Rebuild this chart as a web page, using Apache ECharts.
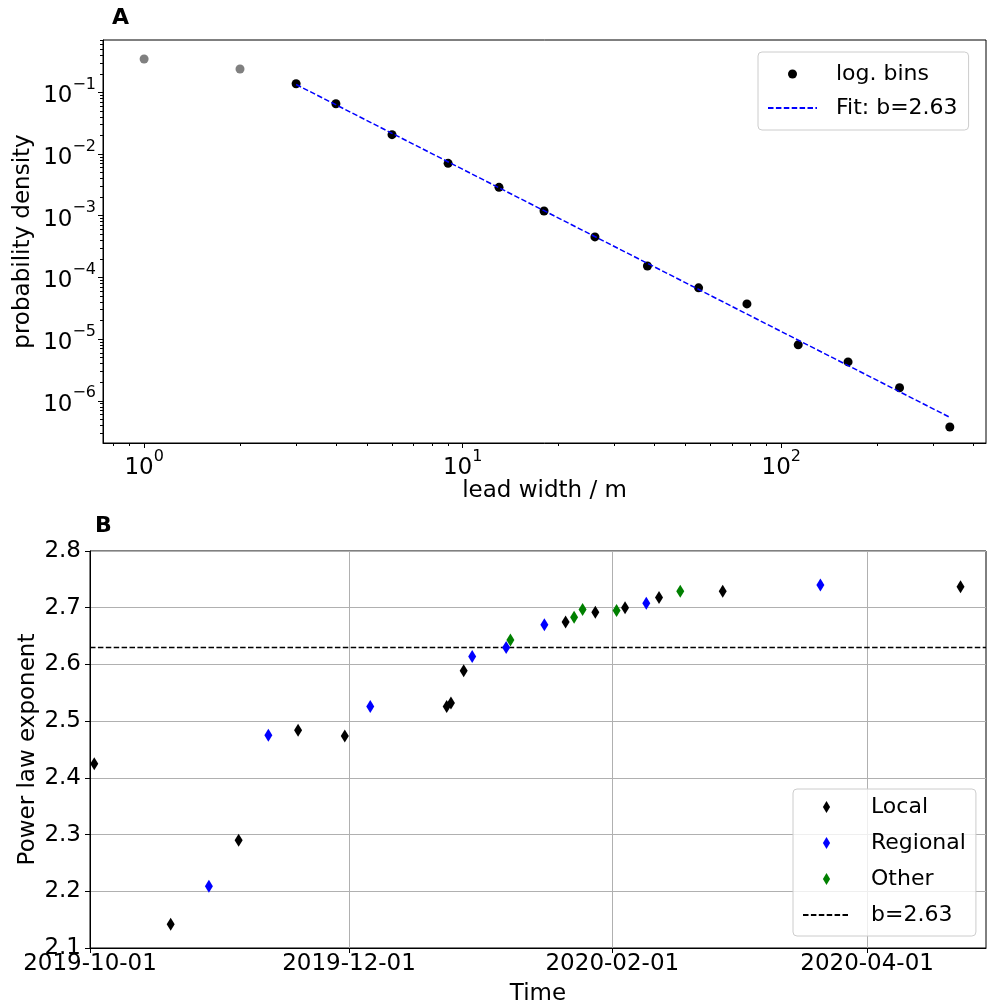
<!DOCTYPE html>
<html>
<head>
<meta charset="utf-8">
<script src="https://cdn.jsdelivr.net/npm/echarts@6/dist/echarts.min.js"></script>
<style>
html,body{margin:0;padding:0;background:#fff;}
#chart{width:987px;height:1008px;}
</style>
</head>
<body>
<div id="chart"></div>
<script>
// ---------- Panel A data ----------
const excludedX = [1, 2];
const excludedY = [0.347, 0.239];
const binX = [3, 4, 6, 9, 13, 18, 26, 38, 55, 78, 113, 162, 235, 338];
const binY = [0.138, 0.0653, 0.0206, 0.00706, 0.00288, 0.00119, 4.53e-4, 1.53e-4, 6.78e-5, 3.72e-5, 8.07e-6, 4.27e-6, 1.63e-6, 3.76e-7];
const fitX = [3, 338];
const fitY = [0.134, 5.4e-7];
const xMajorTicks = [1, 10, 100];
const yMajorTicks = [1e-6, 1e-5, 1e-4, 1e-3, 1e-2, 1e-1];

// ---------- Panel B data ----------
const localDates = ['2019-10-02','2019-10-20','2019-11-05','2019-11-19','2019-11-30','2019-12-24','2019-12-25','2019-12-28','2020-01-21','2020-01-28','2020-02-04','2020-02-12','2020-02-27','2020-04-23'];
const localValues = [2.425, 2.142, 2.290, 2.484, 2.474, 2.526, 2.532, 2.589, 2.675, 2.692, 2.700, 2.718, 2.729, 2.737];
const regionalDates = ['2019-10-29','2019-11-12','2019-12-06','2019-12-30','2020-01-07','2020-01-16','2020-02-09','2020-03-21'];
const regionalValues = [2.209, 2.475, 2.526, 2.614, 2.630, 2.670, 2.708, 2.740];
const otherDates = ['2020-01-08','2020-01-23','2020-01-25','2020-02-02','2020-02-17'];
const otherValues = [2.643, 2.683, 2.697, 2.695, 2.729];
const fitExponent = 2.63;
const timeTicks = ['2019-10-01', '2019-12-01', '2020-02-01', '2020-04-01'];
const timeMin = '2019-10-01';
const timeMax = '2020-04-29';

// ---------- helpers ----------
const FONT = 'DejaVu Sans';
const FS = 23;
const pd = s => echarts.number.parseDate(s).getTime();
const zip = (a, b) => a.map((v, i) => [v, b[i]]);
const zipDates = (a, b) => a.map((v, i) => [pd(v), b[i]]);
function minorTicks(lo, hi) {
  const out = [];
  for (let e = Math.floor(Math.log10(lo)); e <= Math.ceil(Math.log10(hi)); e++) {
    for (let m = 2; m <= 9; m++) {
      const v = m * Math.pow(10, e);
      if (v >= lo && v <= hi) out.push(v);
    }
  }
  return out;
}
const xMin = 0.743, xMax = 439, yMin = 2.07e-7, yMax = 0.705;
const supFmt = v => {
  const e = Math.round(Math.log10(v));
  return '{b|10}{s|' + String(e).replace('-', '\u2212') + '}';
};
const supRich = {
  b: {fontFamily: FONT, fontSize: FS, color: '#000', lineHeight: 31, verticalAlign: 'bottom'},
  s: {fontFamily: FONT, fontSize: 16, color: '#000', lineHeight: 31, verticalAlign: 'top'}
};
const thinDiamond = 'path://M0,-10 L6,0 L0,10 L-6,0 Z';
const pad2 = n => (n < 10 ? '0' : '') + n;
const dateFmt = v => { const d = new Date(v); return d.getFullYear() + '-' + pad2(d.getMonth() + 1) + '-' + pad2(d.getDate()); };
const hiddenSymbol = {color: 'rgba(0,0,0,0)', borderWidth: 0, opacity: 0};

const chart = echarts.init(document.getElementById('chart'), null, {renderer: 'canvas'});
const option = {
  animation: false,
  textStyle: {fontFamily: FONT},
  grid: [
    {left: 103, right: 1, top: 40, height: 403, show: true, borderColor: '#000', borderWidth: 1, containLabel: false},
    {left: 90, right: 1, top: 551, height: 397, show: true, borderColor: '#000', borderWidth: 1, containLabel: false}
  ],
  graphic: [
    {type: 'text', left: 112, top: 7, style: {text: 'A', font: 'bold 22px "DejaVu Sans"', fill: '#000'}},
    {type: 'text', left: 95, top: 515, style: {text: 'B', font: 'bold 22px "DejaVu Sans"', fill: '#000'}}
  ],
  xAxis: [
    {
      gridIndex: 0, type: 'log', min: xMin, max: xMax, position: 'bottom',
      name: 'lead width / m', nameLocation: 'middle', nameGap: 37, nameMoveOverlap: false,
      nameTextStyle: {fontFamily: FONT, fontSize: FS, color: '#000'},
      axisLine: {show: true, lineStyle: {color: '#000', width: 1}},
      axisTick: {show: true, inside: false, length: 5, customValues: xMajorTicks, lineStyle: {color: '#000'}},
      axisLabel: {customValues: xMajorTicks, formatter: supFmt, rich: supRich, margin: 6},
      splitLine: {show: false}
    },
    {
      gridIndex: 0, type: 'log', min: xMin, max: xMax, position: 'bottom',
      axisLine: {show: false},
      axisTick: {show: true, inside: false, length: 3, customValues: minorTicks(xMin, xMax), lineStyle: {color: '#000'}},
      axisLabel: {show: false},
      splitLine: {show: false}
    },
    {
      gridIndex: 1, type: 'value', min: pd(timeMin), max: pd(timeMax),
      name: 'Time', nameLocation: 'middle', nameGap: 35, nameMoveOverlap: false,
      nameTextStyle: {fontFamily: FONT, fontSize: FS, color: '#000'},
      axisLine: {show: true, lineStyle: {color: '#000', width: 1}},
      axisTick: {show: true, length: 5, customValues: timeTicks.map(pd), lineStyle: {color: '#000'}},
      axisLabel: {
        customValues: timeTicks.map(pd), fontFamily: FONT, fontSize: FS, color: '#000', margin: 5,
        formatter: dateFmt
      },
      splitLine: {show: true, lineStyle: {color: '#b0b0b0', width: 1}}
    }
  ],
  yAxis: [
    {
      gridIndex: 0, type: 'log', min: yMin, max: yMax, position: 'left',
      name: 'probability density', nameLocation: 'middle', nameGap: 68, nameMoveOverlap: false,
      nameTextStyle: {fontFamily: FONT, fontSize: FS, color: '#000'},
      axisLine: {show: true, lineStyle: {color: '#000', width: 1}},
      axisTick: {show: true, length: 5, customValues: yMajorTicks, lineStyle: {color: '#000'}},
      axisLabel: {customValues: yMajorTicks, formatter: supFmt, rich: supRich, margin: 7},
      splitLine: {show: false}
    },
    {
      gridIndex: 0, type: 'log', min: yMin, max: yMax, position: 'left',
      axisLine: {show: false},
      axisTick: {show: true, length: 3, customValues: minorTicks(yMin, yMax), lineStyle: {color: '#000'}},
      axisLabel: {show: false},
      splitLine: {show: false}
    },
    {
      gridIndex: 1, type: 'value', min: 2.1, max: 2.8, interval: 0.1, position: 'left',
      name: 'Power law exponent', nameLocation: 'middle', nameGap: 50, nameMoveOverlap: false,
      nameTextStyle: {fontFamily: FONT, fontSize: FS, color: '#000'},
      axisLine: {show: true, lineStyle: {color: '#000', width: 1}},
      axisTick: {show: true, length: 5, lineStyle: {color: '#000'}},
      axisLabel: {fontFamily: FONT, fontSize: FS, color: '#000', margin: 9, formatter: v => v.toFixed(1)},
      splitLine: {show: true, lineStyle: {color: '#b0b0b0', width: 1}}
    }
  ],
  legend: [
    {
      left: 758, top: 52, orient: 'vertical', itemWidth: 49, itemHeight: 9, itemGap: 8,
      padding: [9, 11, 9, 9], borderColor: '#cccccc', borderWidth: 1, borderRadius: 4,
      backgroundColor: 'rgba(255,255,255,0.8)', symbolKeepAspect: true,
      textStyle: {fontFamily: FONT, fontSize: 22, color: '#000', lineHeight: 26, padding: [0, 0, 0, 14]},
      data: [{name: 'log. bins'}, {name: 'Fit: b=2.63', itemStyle: hiddenSymbol}]
    },
    {
      left: 793, top: 789, orient: 'vertical', itemWidth: 47, itemHeight: 12, itemGap: 10,
      padding: [5, 10, 8, 9], borderColor: '#cccccc', borderWidth: 1, borderRadius: 4,
      backgroundColor: 'rgba(255,255,255,0.8)', symbolKeepAspect: true,
      textStyle: {fontFamily: FONT, fontSize: 22, color: '#000', lineHeight: 26, padding: [0, 0, 0, 16]},
      data: [{name: 'Local'}, {name: 'Regional'}, {name: 'Other'}, {name: 'b=' + fitExponent.toFixed(2), itemStyle: hiddenSymbol}]
    }
  ],
  series: [
    {
      name: 'excluded', type: 'scatter', xAxisIndex: 0, yAxisIndex: 0,
      symbol: 'circle', symbolSize: 9, itemStyle: {color: '#808080', opacity: 1},
      data: zip(excludedX, excludedY), z: 3
    },
    {
      name: 'log. bins', type: 'scatter', xAxisIndex: 0, yAxisIndex: 0,
      symbol: 'circle', symbolSize: 9, itemStyle: {color: '#000', opacity: 1},
      data: zip(binX, binY), z: 3
    },
    {
      name: 'Fit: b=2.63', type: 'line', xAxisIndex: 0, yAxisIndex: 0,
      symbol: 'none', lineStyle: {color: '#0000ff', width: 1.5, type: [5.5, 2.4]},
      itemStyle: {color: '#0000ff'},
      data: zip(fitX, fitY), z: 4
    },
    {
      name: 'Local', type: 'scatter', xAxisIndex: 2, yAxisIndex: 2,
      symbol: thinDiamond, symbolSize: [8, 13], itemStyle: {color: '#000', opacity: 1},
      data: zipDates(localDates, localValues), z: 3
    },
    {
      name: 'Regional', type: 'scatter', xAxisIndex: 2, yAxisIndex: 2,
      symbol: thinDiamond, symbolSize: [8, 13], itemStyle: {color: '#0000ff', opacity: 1},
      data: zipDates(regionalDates, regionalValues), z: 3
    },
    {
      name: 'Other', type: 'scatter', xAxisIndex: 2, yAxisIndex: 2,
      symbol: thinDiamond, symbolSize: [8, 13], itemStyle: {color: '#008000', opacity: 1},
      data: zipDates(otherDates, otherValues), z: 3
    },
    {
      name: 'b=' + fitExponent.toFixed(2), type: 'line', xAxisIndex: 2, yAxisIndex: 2,
      symbol: 'none', lineStyle: {color: '#000', width: 1.5, type: [5.5, 2.4]},
      itemStyle: {color: '#000'},
      data: [[pd(timeMin), fitExponent], [pd(timeMax), fitExponent]], z: 2
    }
  ]
};
chart.setOption(option);
</script>
</body>
</html>
